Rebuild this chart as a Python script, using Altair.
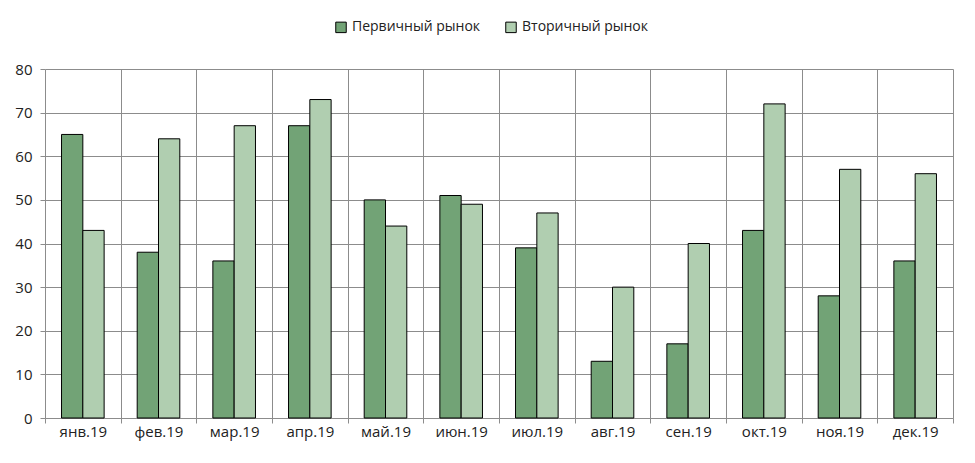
import altair as alt
import pandas as pd

months = ["янв.19", "фев.19", "мар.19", "апр.19", "май.19", "июн.19",
          "июл.19", "авг.19", "сен.19", "окт.19", "ноя.19", "дек.19"]
primary = [65, 38, 36, 67, 50, 51, 39, 13, 17, 43, 28, 36]
secondary = [43, 64, 67, 73, 44, 49, 47, 30, 40, 72, 57, 56]
series = ["Первичный рынок", "Вторичный рынок"]
colors = ["#72A376", "#B0CEB0"]

rows = []
for m, a, b in zip(months, primary, secondary):
    rows.append({"month": m, "series": series[0], "value": a})
    rows.append({"month": m, "series": series[1], "value": b})
df = pd.DataFrame(rows)

FONT = "Open Sans"
GRID = "#8C8C8C"

chart = alt.Chart(df).mark_bar(stroke="black", strokeWidth=1).encode(
    x=alt.X("month:N", sort=months, title=None,
            scale=alt.Scale(paddingInner=0, paddingOuter=0),
            axis=alt.Axis(tickBand="extent", grid=True, gridColor=GRID,
                          domainColor=GRID, tickColor=GRID, tickSize=5,
                          labelAngle=0, labelPadding=1, labelFontSize=15,
                          labelFont=FONT, labelColor="#222222")),
    xOffset=alt.XOffset("series:N", sort=series,
                        scale=alt.Scale(paddingInner=0, paddingOuter=0.776)),
    y=alt.Y("value:Q", title=None,
            scale=alt.Scale(domain=[0, 80], nice=False),
            axis=alt.Axis(values=list(range(0, 81, 10)), domain=False,
                          gridColor=GRID, tickColor=GRID, tickSize=5,
                          labelPadding=8, labelFontSize=15, labelFont=FONT,
                          labelColor="#222222")),
    color=alt.Color("series:N", sort=series,
                    scale=alt.Scale(domain=series, range=colors),
                    legend=alt.Legend(title=None, orient="none",
                                      direction="horizontal",
                                      legendX=289, legendY=-49,
                                      symbolType="square", symbolSize=110,
                                      symbolStrokeColor="black",
                                      symbolStrokeWidth=1,
                                      labelFontSize=14, labelFont=FONT,
                                      labelColor="#222222",
                                      columnPadding=22, labelOffset=4)),
).properties(
    width=908, height=349,
    autosize=alt.AutoSizeParams(type="none"),
    padding={"left": 37, "top": 61, "right": 14, "bottom": 37},
).configure_view(stroke=None)

chart.save("out.html", embed_options={"renderer": "svg", "actions": False})
